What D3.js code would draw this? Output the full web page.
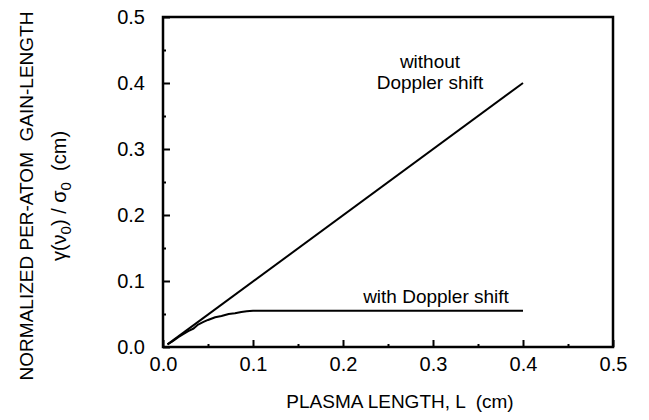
<!DOCTYPE html>
<html>
<head>
<meta charset="utf-8">
<script src="https://cdn.jsdelivr.net/npm/d3@7"></script>
<style>
  body { margin: 0; background: #fff; }
  svg text { font-family: "Liberation Sans", Arial, Helvetica, sans-serif; fill: #000; }
</style>
</head>
<body>
<div id="chart"></div>
<script>
const width = 649;
const height = 420;

// plasma length L (cm) and gain-length (cm)
const noDopplerL = [0.005, 0.4];
const noDopplerG = [0.004, 0.4];

const dopplerL = [0.005, 0.01, 0.017, 0.022, 0.028, 0.034, 0.039, 0.045, 0.05, 0.058, 0.065, 0.073, 0.08, 0.087, 0.093, 0.1, 0.2, 0.3, 0.4];
const dopplerG = [0.004, 0.008, 0.015, 0.019, 0.024, 0.028, 0.034, 0.038, 0.041, 0.045, 0.047, 0.05, 0.051, 0.053, 0.054, 0.055, 0.055, 0.055, 0.055];

const majorTicks = [0, 0.1, 0.2, 0.3, 0.4, 0.5];
const minorTicks = [0.05, 0.15, 0.25, 0.35, 0.45];

const margin = {top: 17, right: 36, bottom: 73, left: 163};

//Create SVG canvas
const svg = d3.select('#chart').
append('svg').
attr('width', width).
attr('height', height);

const x = d3.scaleLinear().domain([0, 0.5]).range([margin.left, width - margin.right]);
const y = d3.scaleLinear().domain([0, 0.5]).range([height - margin.bottom, margin.top]);

//minor ticks, inward
svg.append('g').
attr('transform', 'translate(0,' + y(0) + ')').
call(d3.axisBottom(x).tickValues(minorTicks).tickSize(-3).tickFormat('')).
call(g => g.select('.domain').remove());
svg.append('g').
attr('transform', 'translate(' + x(0) + ',0)').
call(d3.axisLeft(y).tickValues(minorTicks).tickSize(-3).tickFormat('')).
call(g => g.select('.domain').remove());

//major ticks with labels
const xAxis = svg.append('g').
attr('transform', 'translate(0,' + y(0) + ')').
call(d3.axisBottom(x).tickValues(majorTicks).tickSize(-7).tickPadding(10).tickFormat(d3.format('.1f')));
const yAxis = svg.append('g').
attr('transform', 'translate(' + x(0) + ',0)').
call(d3.axisLeft(y).tickValues(majorTicks).tickSize(-7).tickPadding(18).tickFormat(d3.format('.1f')));

[xAxis, yAxis].forEach(g => {
  g.select('.domain').remove();
  g.selectAll('text').attr('font-size', 20).attr('font-family', null);
});
svg.selectAll('.tick line').attr('stroke', '#000').attr('stroke-width', 2);

//frame
svg.append('rect').
attr('x', x(0)).
attr('y', y(0.5)).
attr('width', x(0.5) - x(0)).
attr('height', y(0) - y(0.5)).
attr('fill', 'none').
attr('stroke', '#000').
attr('stroke-width', 2.5);

const line = d3.line().x(d => x(d[0])).y(d => y(d[1]));

svg.append('path').
datum(d3.zip(noDopplerL, noDopplerG)).
attr('d', line).
attr('fill', 'none').
attr('stroke', '#000').
attr('stroke-width', 2);

svg.append('path').
datum(d3.zip(dopplerL, dopplerG)).
attr('d', line).
attr('fill', 'none').
attr('stroke', '#000').
attr('stroke-width', 2).
attr('stroke-linejoin', 'round');

//annotations
svg.append('text').
attr('x', 430).attr('y', 68).
attr('text-anchor', 'middle').
attr('font-size', 19).
text('without');
svg.append('text').
attr('x', 430).attr('y', 89).
attr('text-anchor', 'middle').
attr('font-size', 19).
text('Doppler shift');
svg.append('text').
attr('x', 436).attr('y', 303).
attr('text-anchor', 'middle').
attr('font-size', 19).
text('with Doppler shift');

//axis titles
svg.append('text').
attr('x', 400).attr('y', 408).
attr('text-anchor', 'middle').
attr('font-size', 19).
style('white-space', 'pre').
text('PLASMA LENGTH, L  (cm)');

svg.append('text').
attr('transform', 'translate(33,196) rotate(-90)').
attr('text-anchor', 'middle').
attr('font-size', 19).
style('white-space', 'pre').
text('NORMALIZED PER-ATOM  GAIN-LENGTH');

const t2 = svg.append('text').
attr('transform', 'translate(66,196) rotate(-90)').
attr('text-anchor', 'middle').
attr('font-size', 20).
style('white-space', 'pre');
t2.append('tspan').text('\u03b3(\u03bd');
t2.append('tspan').attr('dy', 5).attr('font-size', 15).text('0');
t2.append('tspan').attr('dy', -5).text(') / \u03c3');
t2.append('tspan').attr('dy', 5).attr('font-size', 15).text('0');
t2.append('tspan').attr('dy', -5).text('  (cm)');
</script>
</body>
</html>
